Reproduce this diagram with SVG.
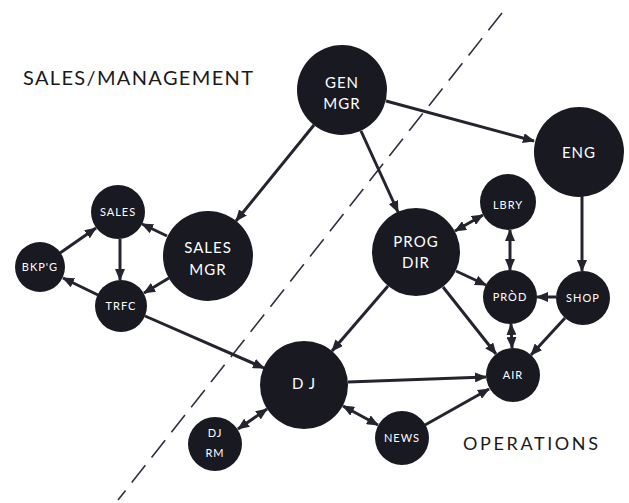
<svg xmlns="http://www.w3.org/2000/svg" width="629" height="503" viewBox="0 0 629 503">
<defs>
<marker id="ah" viewBox="0 0 12 10" refX="11" refY="5" markerWidth="12" markerHeight="10" markerUnits="userSpaceOnUse" orient="auto-start-reverse">
<path d="M0,0 L12,5 L0,10 z" fill="#24242e"/>
</marker>
<style>
.node{fill:#191922;}
.lbl{fill:#ffffff;font-family:Lato,"Liberation Sans",sans-serif;text-anchor:middle;letter-spacing:1px;}
.big{font-size:15px;}
.sm{font-size:11px;}
.e{stroke:#24242e;stroke-width:3;fill:none;marker-end:url(#ah);}
.d{marker-start:url(#ah);}
.title{fill:#1a1a1a;font-family:Lato,"Liberation Sans",sans-serif;letter-spacing:2px;}
</style>
</defs>
<rect width="629" height="503" fill="#ffffff"/>
<line x1="502" y1="13" x2="118" y2="500" stroke="#2e3040" stroke-width="1.6" stroke-dasharray="22,10"/>
<text class="title" x="23" y="85" font-size="20" textLength="232">SALES/MANAGEMENT</text>
<text class="title" x="463" y="450" font-size="18" textLength="137">OPERATIONS</text>
<g id="connectors">
<line class="e" x1="314" y1="125" x2="236" y2="221"/>
<line class="e" x1="361" y1="131" x2="398" y2="212"/>
<line class="e" x1="386" y1="101" x2="534" y2="141"/>
<line class="e" x1="582" y1="196" x2="582" y2="271"/>
<line class="e" x1="167" y1="236" x2="142" y2="224"/>
<line class="e" x1="169" y1="278" x2="144" y2="293"/>
<line class="e" x1="120" y1="239" x2="120" y2="280"/>
<line class="e" x1="60" y1="253" x2="96" y2="228"/>
<line class="e" x1="98" y1="295" x2="63" y2="278"/>
<line class="e" x1="145" y1="316" x2="264" y2="368"/>
<line class="e" x1="388" y1="286" x2="332" y2="351"/>
<line class="e" x1="456" y1="271" x2="486" y2="285"/>
<line class="e" x1="443" y1="287" x2="496" y2="354"/>
<line class="e d" x1="455" y1="231" x2="483" y2="215"/>
<line class="e d" x1="510" y1="230" x2="510" y2="270"/>
<line class="e" x1="556" y1="297" x2="537" y2="297"/>
<line class="e d" x1="511" y1="324" x2="512" y2="348"/>
<line class="e" x1="565" y1="318" x2="531" y2="355"/>
<line class="e" x1="348" y1="382" x2="486" y2="377"/>
<line class="e" x1="425" y1="425" x2="489" y2="389"/>
<line class="e d" x1="343" y1="406" x2="378" y2="425"/>
<line class="e d" x1="267" y1="409" x2="238" y2="429"/>
</g>
<g id="genmgr"><circle class="node" cx="342" cy="90" r="45"/><text class="lbl big" x="342" y="88">GEN</text><text class="lbl big" x="342" y="109">MGR</text></g>
<g id="eng"><circle class="node" cx="579" cy="152" r="45"/><text class="lbl big" x="579" y="158">ENG</text></g>
<g id="salesmgr"><circle class="node" cx="208" cy="256" r="45"/><text class="lbl big" x="208" y="253">SALES</text><text class="lbl big" x="208" y="275">MGR</text></g>
<g id="progdir"><circle class="node" cx="416" cy="252" r="44"/><text class="lbl big" x="416" y="247">PROG</text><text class="lbl big" x="416" y="268">DIR</text></g>
<g id="dj"><circle class="node" cx="304" cy="385" r="44"/><text class="lbl big" x="304" y="389">D J</text></g>
<g id="sales"><circle class="node" cx="118" cy="212" r="27"/><text class="lbl sm" x="118" y="216">SALES</text></g>
<g id="bkpg"><circle class="node" cx="40" cy="267" r="25"/><text class="lbl sm" x="40" y="271">BKP'G</text></g>
<g id="trfc"><circle class="node" cx="121" cy="306" r="26"/><text class="lbl sm" x="121" y="310">TRFC</text></g>
<g id="djrm"><circle class="node" cx="215" cy="444" r="27"/><text class="lbl sm" x="215" y="437">DJ</text><text class="lbl sm" x="215" y="457">RM</text></g>
<g id="lbry"><circle class="node" cx="508" cy="202" r="28"/><text class="lbl sm" x="508" y="209">LBRY</text></g>
<g id="prod"><circle class="node" cx="510" cy="297" r="27"/><text class="lbl sm" x="510" y="301">PRÒD</text></g>
<g id="shop"><circle class="node" cx="583" cy="298" r="27"/><text class="lbl sm" x="583" y="302">SHOP</text></g>
<g id="air"><circle class="node" cx="513" cy="375" r="27"/><text class="lbl sm" x="513" y="379">AIR</text></g>
<g id="news"><circle class="node" cx="402" cy="438" r="27"/><text class="lbl sm" x="402" y="442">NEWS</text></g>
</svg>
